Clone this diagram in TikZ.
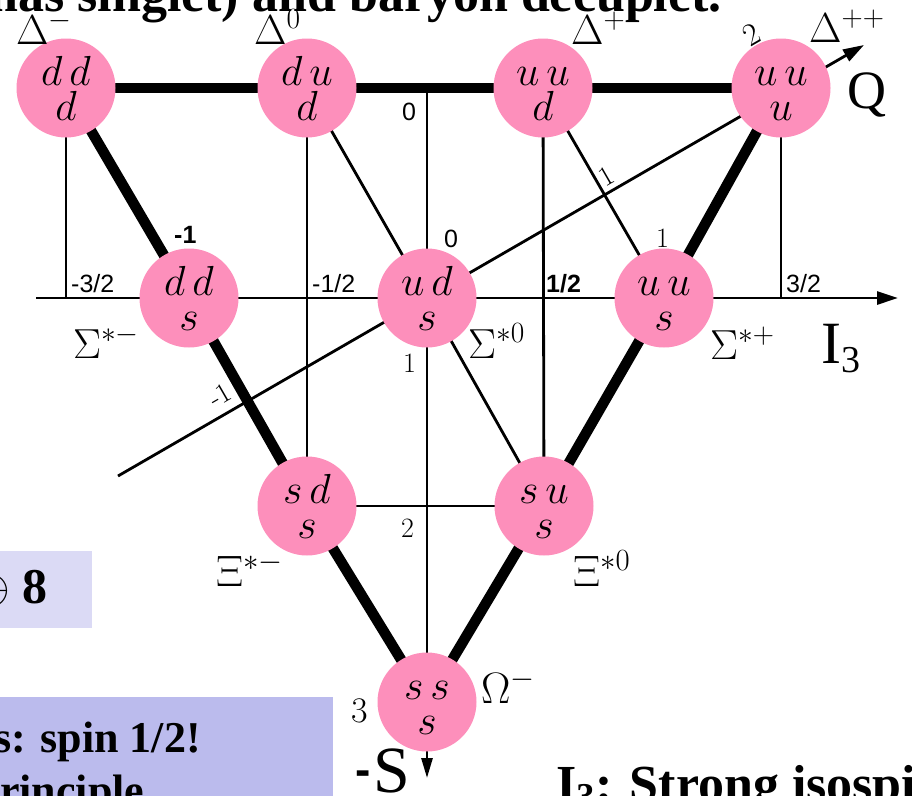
\RequirePackage{fix-cm}
\documentclass[tikz,border=0pt]{standalone}
\usepackage{fontspec}
\newfontfamily\slidefont{Liberation Serif}
\newfontfamily\helv{Liberation Sans}
\usetikzlibrary{arrows.meta}
\definecolor{quarkpink}{RGB}{253,143,187}
\definecolor{boxlight}{RGB}{219,218,245}
\definecolor{boxdark}{RGB}{187,187,237}
\pgfdeclarelayer{bg}
\pgfsetlayers{bg,main}
\begin{document}
\begin{tikzpicture}[x=1pt,y=-1pt,
  quark/.style={circle,fill=quarkpink,minimum size=99pt,inner sep=0pt,align=center,font=\fontsize{42}{35}\selectfont},
  edgeline/.style={line width=10.5pt},
  gridline/.style={line width=2.8pt},
  axisarrow/.style={line width=2.8pt,-{Triangle[length=21pt,width=13pt]}},
  greek/.style={anchor=base west,inner sep=0pt,font=\fontsize{42}{48}\selectfont},
  numlabel/.style={anchor=base west,inner sep=0pt,font=\helv\fontsize{25}{30}\selectfont},
  seriflabel/.style={anchor=base west,inner sep=0pt,font=\fontsize{28}{32}\selectfont},
  slidetext/.style={inner sep=0pt,font=\slidefont\bfseries\fontsize{44}{50}\selectfont},
]
\useasboundingbox (0,0) rectangle (912,795);
\clip (0,0) rectangle (912,795);

% slide boxes and text
\fill[boxlight] (0,551) rectangle (92,628);
\fill[boxdark] (0,697) rectangle (333,800);
\node[slidetext,font=\slidefont\bfseries\fontsize{52}{60}\selectfont,anchor=base east] (title) at (722,11) {has singlet) and baryon decuplet.};
\node[slidetext,font=\slidefont\bfseries\fontsize{50}{56}\selectfont,anchor=base east] (oct) at (48,603) {$\oplus$ 8};
\node[slidetext,anchor=base east] (spin) at (201,752) {s: spin 1/2!};
\node[slidetext,anchor=base west] (pauli) at (0,805) {rinciple};
\node[slidetext,font=\slidefont\bfseries\fontsize{52}{60}\selectfont,anchor=base west] (iso) at (556,801) {I\textsubscript{3}: Strong isospin};

% quark nodes
\node[quark] (ddd) at (66,88) {$\vphantom{d}d\,d$\\$d$};
\node[quark] (dud) at (307,88) {$\vphantom{d}d\,u$\\$d$};
\node[quark] (uud) at (543,88) {$\vphantom{d}u\,u$\\$d$};
\node[quark] (uuu) at (781,88) {$\vphantom{d}u\,u$\\$u$};
\node[quark] (dds) at (189,298) {$\vphantom{d}d\,d$\\$s$};
\node[quark] (uds) at (427,298) {$\vphantom{d}u\,d$\\$s$};
\node[quark] (uus) at (664,298) {$\vphantom{d}u\,u$\\$s$};
\node[quark] (sds) at (307,506) {$\vphantom{d}s\,d$\\$s$};
\node[quark] (sus) at (544,506) {$\vphantom{d}s\,u$\\$s$};
\node[quark] (sss) at (427,702) {$\vphantom{d}s\,s$\\$s$};

% axis end points
\coordinate (i3start) at (36,298);
\coordinate (i3end) at (898,298);
\coordinate (sstart) at (427,88);
\coordinate (send) at (427,778);
\coordinate (qstart) at (118,476);
\coordinate (qend) at (864,45);

\begin{pgfonlayer}{bg}
  \draw[edgeline] (ddd.center) -- (uuu.center);
  \draw[edgeline] (ddd.center) -- (dds.center) -- (sds.center) -- (sss.center);
  \draw[edgeline] (uuu.center) -- (uus.center) -- (sus.center) -- (sss.center);
  \draw[gridline] (ddd.center) -- (ddd.center |- i3start);
  \draw[gridline] (uuu.center) -- (uuu.center |- i3start);
  \draw[gridline] (dud.center) -- (sds.center);
  \draw[gridline] (uud.center) -- (sus.center);
  \draw[gridline] (dud.center) -- (uds.center) -- (sus.center);
  \draw[gridline] (uud.center) -- (uus.center);
  \draw[gridline] (sds.center) -- (sus.center);
  \draw[axisarrow] (i3start) -- (i3end);
  \draw[axisarrow,-{Triangle[length=20pt,width=11pt]}] (sstart) -- (send);
  \draw[axisarrow] (qstart) -- (qend);
\end{pgfonlayer}

% particle names
\node[greek] (lDm) at (16,44) {$\Delta^{-}$};
\node[greek] (lD0) at (254,44) {$\Delta^{0}$};
\node[greek] (lDp) at (571,44) {$\Delta^{+}$};
\node[greek] (lDpp) at (809,42) {$\Delta^{++}$};
\node[greek] (lSm) at (73,358) {$\Sigma^{*-}$};
\node[greek] (lS0) at (468,358) {$\Sigma^{*0}$};
\node[greek] (lSp) at (710,359) {$\Sigma^{*+}$};
\node[greek,font=\fontsize{44}{50}\selectfont] (lXm) at (216,586) {$\Xi^{*-}$};
\node[greek,font=\fontsize{44}{50}\selectfont] (lX0) at (573,586) {$\Xi^{*0}$};
\node[greek,font=\fontsize{44}{50}\selectfont] (lOm) at (481,703) {$\Omega^{-}$};

% axis values
\node[numlabel] (n1) at (71,292) {-3/2};
\node[numlabel] (n2) at (312,292) {-1/2};
\node[numlabel,font=\helv\bfseries\fontsize{25}{30}\selectfont] (n3) at (546,292) {1/2};
\node[numlabel] (n4) at (786,292) {3/2};
\node[numlabel,font=\helv\bfseries\fontsize{25}{30}\selectfont] (qm1) at (174,243) {-1};
\node[numlabel] (q0) at (444,247) {0};
\node[seriflabel] (q1) at (656,247) {1};
\node[numlabel] (s0) at (402,120) {0};
\node[seriflabel] (s1) at (403,372) {1};
\node[seriflabel] (s2) at (401,537) {2};
\node[seriflabel,font=\fontsize{36}{40}\selectfont] (s3) at (351,722) {3};
\node[seriflabel,anchor=center,rotate=30] (qa1) at (220,395) {-1};
\node[seriflabel,anchor=center,rotate=30] (qa2) at (606,176) {1};
\node[seriflabel,anchor=center,rotate=30,font=\fontsize{32}{36}\selectfont] (qa3) at (752,35) {2};

% axis names
\node[anchor=base west,inner sep=0pt,font=\slidefont\fontsize{54}{60}\selectfont] (qlab) at (847,108) {Q};
\node[anchor=base west,inner sep=0pt,font=\slidefont\fontsize{60}{64}\selectfont] (i3lab) at (821,363) {I\raisebox{-9pt}{\fontsize{38}{40}\selectfont 3}};
\node[anchor=base west,inner sep=0pt,font=\slidefont\fontsize{66}{70}\selectfont] (slab) at (355,792) {\raisebox{7pt}{\helv\bfseries\fontsize{46}{50}\selectfont -}\hspace{3pt}S};
\end{tikzpicture}
\end{document}
